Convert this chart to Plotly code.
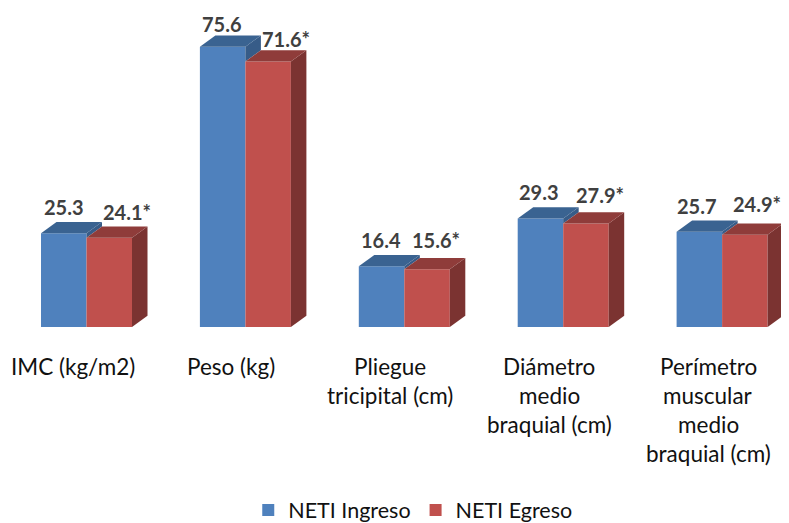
import plotly.graph_objects as go

# data
categories = ["IMC (kg/m2)", "Peso (kg)", "Pliegue tricipital (cm)",
              "Diámetro medio braquial (cm)", "Perímetro muscular medio braquial (cm)"]
category_lines = [["IMC (kg/m2)"], ["Peso (kg)"], ["Pliegue", "tricipital (cm)"],
                  ["Diámetro", "medio", "braquial (cm)"],
                  ["Perímetro", "muscular", "medio", "braquial (cm)"]]
ingreso = [25.3, 75.6, 16.4, 29.3, 25.7]
egreso = [24.1, 71.6, 15.6, 27.9, 24.9]
ingreso_labels = ["25.3", "75.6", "16.4", "29.3", "25.7"]
egreso_labels = ["24.1*", "71.6*", "15.6*", "27.9*", "24.9*"]

# geometry (px -> axis units); the page body adds an 8 px margin on the top and left
W, H = 789, 523
PAGE = 8
PX_X = 158.9           # px per category
BASE_PX = 329.5 - PAGE
PX_Y = 282.5 / 75.6    # px per value unit
X0_PX = 86.5 - PAGE    # px of first category centre
BAR = 45.5 / PX_X
DX = 15.5 / PX_X
DY = 11.3 / PX_Y
xs = list(range(len(categories)))

BLUE, BLUE_TOP, BLUE_SIDE = "#4F81BD", "#3A6391", "#375C88"
RED, RED_TOP, RED_SIDE = "#C0504D", "#8F3C3A", "#7B3331"


def poly(x, y, color):
    return go.Scatter(x=x + [x[0]], y=y + [y[0]], mode="lines", fill="toself", fillcolor=color,
                      line=dict(width=0), showlegend=False, hoverinfo="skip")


fig = go.Figure()
fig.add_bar(x=xs, y=ingreso, width=BAR, offset=-BAR, marker=dict(color=BLUE, line=dict(width=0)),
            name="NETI Ingreso")
fig.add_bar(x=xs, y=egreso, width=BAR, offset=0, marker=dict(color=RED, line=dict(width=0)),
            name="NETI Egreso")

for x, b, r in zip(xs, ingreso, egreso):
    # blue side: only the part rising above the red bar's top face
    fig.add_trace(poly([x, x, x + DX, x + DX], [r, b, b + DY, r + DY], BLUE_SIDE))
    fig.add_trace(poly([x - BAR, x - BAR + DX, x + DX, x], [b, b + DY, b + DY, b], BLUE_TOP))
    fig.add_trace(poly([x + BAR, x + BAR + DX, x + BAR + DX, x + BAR], [0, DY, r + DY, r], RED_SIDE))
    fig.add_trace(poly([x, x + DX, x + BAR + DX, x + BAR], [r, r + DY, r + DY, r], RED_TOP))

annotations = []
FONT = "Lato, Carlito, Calibri, sans-serif"
label_font = dict(family=FONT, size=20, color="#404040", weight="bold")
blue_shift = [(0, 26), (-1, 23), (-1, 26), (-1, 26), (-2, 26)]
red_shift = [(18, 26), (18, 23), (9, 29), (14, 29), (12, 31)]
for x, b, r, bl, rl, bs, rs in zip(xs, ingreso, egreso, ingreso_labels, egreso_labels, blue_shift, red_shift):
    annotations.append(dict(x=x - BAR / 2, y=b, text=bl, showarrow=False, font=label_font,
                            xshift=bs[0], yshift=bs[1], xanchor="center", yanchor="middle"))
    annotations.append(dict(x=x + BAR / 2, y=r, text=rl, showarrow=False, font=label_font,
                            xshift=rs[0], yshift=rs[1], xanchor="center", yanchor="middle"))

cat_font = dict(family=FONT, size=22.5, color="#111111")
for x, lines in zip(xs, category_lines):
    for i, line in enumerate(lines):
        annotations.append(dict(x=x, y=0, text=line, showarrow=False, font=cat_font,
                                xshift=-14, yshift=-39 - i * 29.3,
                                xanchor="center", yanchor="middle"))

fig.update_layout(
    width=W, height=H, autosize=False, paper_bgcolor="white", plot_bgcolor="white",
    margin=dict(l=0, r=0, t=0, b=0),
    barmode="overlay", annotations=annotations,
    xaxis=dict(range=[-X0_PX / PX_X, (W - X0_PX) / PX_X], visible=False, fixedrange=True),
    yaxis=dict(range=[-(H - BASE_PX) / PX_Y, BASE_PX / PX_Y], visible=False, fixedrange=True),
    showlegend=True,
    legend=dict(orientation="h", x=0.513, xanchor="center", y=(H - 506) / H, yanchor="middle",
                font=dict(family=FONT, size=21.5, color="#111111"),
                itemwidth=30, bgcolor="rgba(0,0,0,0)"),
)
fig.write_html("out.html", config={"displayModeBar": False})
